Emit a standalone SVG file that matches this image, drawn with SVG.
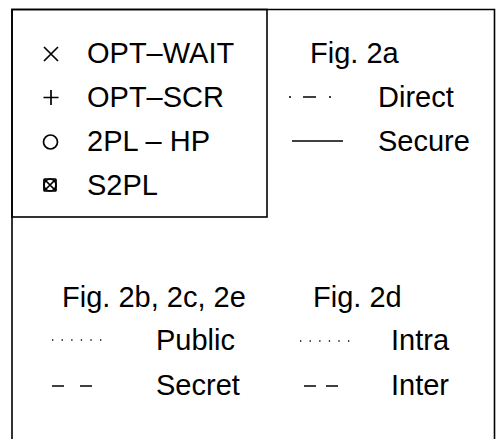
<svg xmlns="http://www.w3.org/2000/svg" width="497" height="439" viewBox="0 0 497 439">
<style>
text{font-family:"Liberation Sans",Arial,sans-serif;font-size:29px;fill:#000}
.frame{fill:none;stroke:#000;stroke-width:1.6}
.ln{fill:none;stroke:#000;stroke-width:1.6}
.dot{fill:none;stroke:#000;stroke-width:1.3;stroke-dasharray:1.3 8.3}
.mk{fill:none;stroke:#000;stroke-width:1.7}
</style>
<rect width="497" height="439" fill="#fff"/>
<g id="frame">
<path class="frame" d="M12,439 V9.5 H494.5 V439"/>
<rect class="frame" x="12" y="9.5" width="255" height="207.5"/>
</g>
<g id="legend-algorithms">
<g id="opt-wait"><path class="mk" d="M44,47 L58,61 M58,47 L44,61"/><text x="87" y="63">OPT–WAIT</text></g>
<g id="opt-scr"><path class="mk" d="M51,90 V105 M43.5,97.5 H58.5"/><text x="87" y="107">OPT–SCR</text></g>
<g id="twopl-hp"><circle class="mk" cx="50.5" cy="142" r="7"/><text x="87" y="151">2PL – HP</text></g>
<g id="s2pl"><circle class="mk" cx="50" cy="185" r="6"/><rect class="mk" x="44" y="179" width="12" height="12" rx="1"/><path class="mk" d="M44,179 L56,191 M56,179 L44,191"/><text x="87" y="195">S2PL</text></g>
</g>
<g id="legend-fig2a">
<text x="310" y="63">Fig. 2a</text>
<g id="direct"><path class="ln" d="M289,97 h2 M303,97 h13 M329,97 h2"/><text x="378" y="107">Direct</text></g>
<g id="secure"><path class="ln" d="M292,141 H343"/><text x="378" y="151">Secure</text></g>
</g>
<g id="legend-fig2bce">
<text x="62" y="307">Fig. 2b, 2c, 2e</text>
<g id="public"><path class="dot" d="M52,340 H102"/><text x="156" y="350">Public</text></g>
<g id="secret"><path class="ln" d="M52,386 H64 M80,386 H92"/><text x="156" y="395">Secret</text></g>
</g>
<g id="legend-fig2d">
<text x="313" y="307">Fig. 2d</text>
<g id="intra"><path class="dot" d="M300,341 H350"/><text x="391" y="350">Intra</text></g>
<g id="inter"><path class="ln" d="M304,386 H316 M326,386 H338"/><text x="391" y="395">Inter</text></g>
</g>
</svg>
